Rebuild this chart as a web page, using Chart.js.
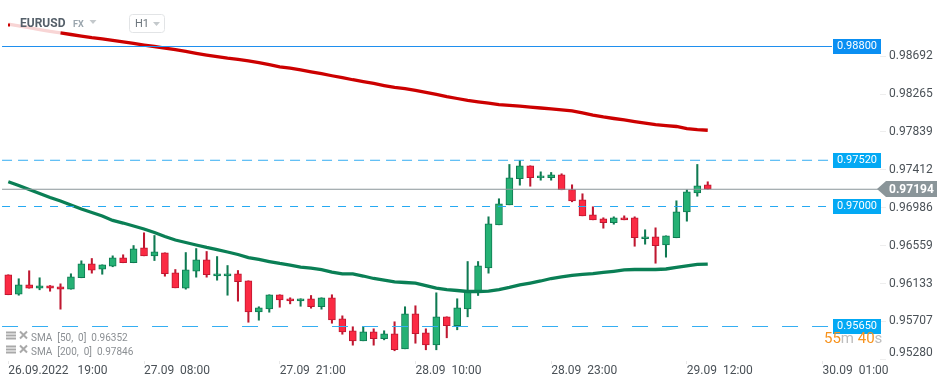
<!DOCTYPE html>
<html>
<head>
<meta charset="utf-8">
<title>EURUSD H1</title>
<script src="https://cdn.jsdelivr.net/npm/chart.js@4/dist/chart.umd.min.js"></script>
<style>
html, body { margin: 0; padding: 0; background: #fff; }
#wrap { width: 949px; height: 384px; }
</style>
</head>
<body>
<div id="wrap"><canvas id="fxChart"></canvas></div>
<script>
const opens = [.96232,.96013,.96119,.96081,.96108,.96097,.9607,.96198,.96355,.96295,.96328,.96423,.96367,.96535,.96445,.96479,.96254,.96081,.96272,.964,.9622,.9622,.96243,.96164,.95815,.95849,.96007,.95962,.95939,.95962,.95872,.95973,.95737,.95602,.95489,.9559,.95512,.95568,.95399,.95793,.95579,.95444,.95759,.95658,.95849,.96032,.9631,.96794,.97019,.97312,.97458,.97323,.97323,.97357,.97191,.97075,.96907,.96862,.96817,.96873,.96873,.96637,.96659,.96569,.96648,.9694,.97154,.97244];
const highs = [.96232,.96187,.96277,.96198,.96111,.9613,.96243,.96389,.96415,.96344,.96445,.96457,.96561,.96704,.96674,.96479,.96291,.96482,.96527,.96494,.96437,.96336,.9628,.96164,.95872,.96007,.96007,.95973,.95962,.95999,.95973,.96007,.9577,.95647,.95647,.95624,.95602,.95703,.95872,.95883,.95624,.96029,.95759,.95962,.96381,.96381,.96884,.97087,.97473,.97518,.97458,.9739,.97383,.97368,.97244,.97143,.96997,.96873,.96884,.96895,.96884,.96738,.9676,.9667,.97064,.97188,.97473,.97278];
const lows = [.96007,.96002,.96081,.96063,.96047,.95845,.9607,.96198,.9625,.96238,.96322,.96367,.96367,.96445,.96392,.96216,.96085,.9607,.96205,.96205,.96171,.96002,.95935,.95698,.95721,.95811,.95867,.95905,.95878,.95856,.95845,.95687,.95563,.9544,.95489,.9544,.955,.95377,.95399,.95462,.95388,.95388,.95523,.95613,.95759,.95999,.9625,.96794,.97019,.9724,.97228,.97296,.97296,.97188,.97053,.96895,.9685,.96756,.96801,.9685,.96553,.96576,.96362,.9643,.96648,.96835,.97116,.97194];
const closes = [.96007,.96119,.96081,.96108,.96081,.9607,.96209,.96355,.96283,.96344,.96423,.96367,.96524,.96445,.9649,.96243,.96085,.96288,.964,.96232,.96243,.96243,.96153,.95815,.9586,.96007,.9595,.95939,.95962,.95872,.95973,.95725,.9559,.95489,.9559,.95512,.95568,.95388,.95793,.95568,.95444,.95759,.95658,.9586,.9604,.96333,.96805,.9703,.97323,.97458,.97323,.97345,.97357,.97188,.97064,.96895,.9685,.96817,.96873,.9685,.96648,.96659,.96558,.9667,.9694,.97165,.97233,.97194];
const sma50 = [.97278,.97236,.97191,.97146,.97101,.97062,.97017,.96972,.96933,.96893,.96843,.96814,.96781,.96747,.96708,.96663,.96623,.96595,.96567,.96539,.96516,.96488,.9646,.96426,.96404,.96381,.96359,.9634,.96319,.96306,.96291,.96263,.96243,.96241,.96218,.9619,.96173,.96153,.96145,.96139,.96111,.96083,.96066,.96055,.96044,.96044,.96049,.96066,.96089,.96117,.96139,.96162,.9619,.96207,.96224,.96237,.96246,.96258,.96271,.96286,.96291,.96291,.96291,.96297,.96314,.96331,.96348,.96352];
const sma200 = [.99053,.99032,.99012,.98991,.98971,.98952,.98935,.98918,.98901,.98887,.9887,.98853,.98834,.98816,.988,.98783,.98766,.98744,.98723,.98704,.98685,.98668,.98654,.98639,.98618,.98595,.9857,.98557,.98537,.98515,.98494,.98471,.98449,.98426,.98406,.98384,.98361,.98339,.98325,.98307,.98285,.98262,.98237,.98215,.98195,.98178,.98162,.98147,.98138,.98129,.98119,.98108,.98098,.98088,.98075,.98054,.98029,.98007,.9799,.97975,.97956,.97938,.97922,.97911,.979,.97877,.97866,.97858];

const yTicks = [.98692,.98265,.97839,.97412,.96986,.96559,.96133,.95707,.9528];
const yTickLabels = ['0.98692','0.98265','0.97839','0.97412','0.96986','0.96559','0.96133','0.95707','0.95280'];
const xTicks = [0,13,26,39,52,65,78];
const xTickLabels = ['26.09.2022   19:00','27.09  08:00','27.09  21:00','28.09  10:00','28.09  23:00','29.09  12:00','30.09  01:00'];
const lastPrice = 0.97194;
const levels = [0.988, 0.9752, 0.97, 0.9565];
const levelLabels = ['0.98800','0.97520','0.97000','0.95650'];
const levelDash = [[], [10,6], [8,8], [16,14]];
const levelColors = ['#1f8fee','#35aef2','#25a9f2','#35aef2'];
const levelBoxColors = ['#0a8ff2','#03a9f4','#03a9f4','#03a9f4'];
const legendLines = ['SMA  [50,  0]  0.96352','SMA  [200,  0]  0.97846'];

const FONT = 'Roboto, sans-serif';
const UP = '#25b174', UP_EDGE = '#0f7a52', DOWN = '#fb2a43', DOWN_EDGE = '#bf1730';
const isUp = opens.map((o, i) => closes[i] >= o);
const xMin = -0.795, xMax = 83.5;

const datasets = [];
levels.forEach((lv, i) => {
    datasets.push({
        type: 'line',
        data: [{ x: -0.6, y: lv }, { x: 78.9, y: lv }],
        borderColor: levelColors[i],
        borderWidth: 1,
        borderDash: levelDash[i],
        pointRadius: 0,
        order: 0,
    });
});
datasets.push({
    type: 'line',
    data: [{ x: -0.6, y: lastPrice }, { x: xMax, y: lastPrice }],
    borderColor: '#8a9599',
    borderWidth: 1,
    pointRadius: 0,
    order: 0,
});
datasets.push({
    type: 'line',
    data: sma200.map((v, i) => ({ x: i, y: v })),
    borderColor: '#cc0000',
    borderWidth: 3.3,
    pointRadius: 0,
    // the header fades the start of this line
    segment: { borderColor: ctx => ctx.p0DataIndex < 5 ? '#f8d5d5' : undefined },
    order: 1,
});
datasets.push({
    type: 'line',
    data: sma50.map((v, i) => ({ x: i, y: v })),
    borderColor: '#0a7f55',
    borderWidth: 3.3,
    pointRadius: 0,
    order: 1,
});
datasets.push({
    type: 'bar',
    data: opens.map((o, i) => ({ x: i, y: [Math.min(o, closes[i]), Math.max(o, closes[i])] })),
    backgroundColor: isUp.map(u => u ? UP : DOWN),
    borderColor: isUp.map(u => u ? UP_EDGE : DOWN_EDGE),
    borderWidth: 1,
    borderSkipped: false,
    barThickness: 7,
    order: 2,
});
datasets.push({
    type: 'bar',
    data: lows.map((l, i) => ({ x: i, y: [l, highs[i]] })),
    backgroundColor: isUp.map(u => u ? UP_EDGE : DOWN_EDGE),
    borderWidth: 0,
    barThickness: 1.4,
    order: 3,
});

function triangle(ctx, x, y, w, h, color) {
    ctx.fillStyle = color;
    ctx.beginPath();
    ctx.moveTo(x, y);
    ctx.lineTo(x + w, y);
    ctx.lineTo(x + w / 2, y + h);
    ctx.closePath();
    ctx.fill();
}

// labels at the axis ends must not push the chart area in
function noMargins(s) {
    s.paddingLeft = 0;
    s.paddingRight = 0;
    s.paddingTop = 0;
    s.paddingBottom = 0;
}

const overlay = {
    id: 'overlay',
    afterDraw(chart) {
        const ctx = chart.ctx;
        const yScale = chart.scales.y;
        ctx.save();
        ctx.textBaseline = 'middle';

        // level boxes
        levels.forEach((lv, i) => {
            const y = Math.floor(yScale.getPixelForValue(lv));
            ctx.fillStyle = levelBoxColors[i];
            ctx.fillRect(833, y - 7, 48, 15);
            ctx.fillStyle = '#fff';
            ctx.font = '11px ' + FONT;
            ctx.textAlign = 'left';
            ctx.fillText(levelLabels[i], 837, y + 0.5);
        });

        // last price tag
        const py = Math.round(yScale.getPixelForValue(lastPrice));
        ctx.fillStyle = '#8a9599';
        ctx.beginPath();
        ctx.moveTo(877, py);
        ctx.lineTo(886, py - 8);
        ctx.lineTo(937, py - 8);
        ctx.lineTo(937, py + 8);
        ctx.lineTo(886, py + 8);
        ctx.closePath();
        ctx.fill();
        ctx.fillStyle = '#fff';
        ctx.font = 'bold 12px ' + FONT;
        ctx.fillText('0.97194', 889, py + 0.5);

        // bottom price is held up above the time axis
        ctx.fillStyle = '#4a5157';
        ctx.font = '12px ' + FONT;
        ctx.fillText(yTickLabels[yTickLabels.length - 1], 889, 353);

        // countdown
        ctx.font = '15px ' + FONT;
        let tx = 824;
        [['55', '#f7931e'], ['m ', '#bdbdbd'], ['40', '#f7931e'], ['s', '#bdbdbd']].forEach(p => {
            ctx.fillStyle = p[1];
            ctx.fillText(p[0], tx, 339.5);
            tx += ctx.measureText(p[0]).width;
        });

        // header
        ctx.fillStyle = '#55606a';
        ctx.font = 'bold 12px ' + FONT;
        ctx.fillText('EURUSD', 20, 23.5);
        ctx.fillStyle = '#9aa5ad';
        ctx.font = 'bold 9px ' + FONT;
        ctx.fillText('FX', 73, 24.5);
        triangle(ctx, 89.5, 20, 7, 4, '#c4c9cc');
        ctx.strokeStyle = '#e2e4e6';
        ctx.lineWidth = 1;
        ctx.beginPath();
        ctx.roundRect(129.5, 14.5, 35, 18, 3);
        ctx.stroke();
        ctx.fillStyle = '#6c757c';
        ctx.font = '11px ' + FONT;
        ctx.fillText('H1', 135, 24);
        triangle(ctx, 153, 22, 7, 4, '#c4c9cc');
        ctx.fillStyle = '#cc0000';
        ctx.fillRect(8, 23.5, 2, 3);

        // indicator legend
        legendLines.forEach((txt, i) => {
            const ly = 337.5 + i * 14;
            ctx.fillStyle = '#a9a9a9';
            ctx.fillRect(6, ly - 6, 10, 2);
            ctx.fillRect(6, ly - 3, 10, 2);
            ctx.fillRect(6, ly, 10, 2);
            ctx.strokeStyle = '#a9a9a9';
            ctx.lineWidth = 2;
            ctx.beginPath();
            ctx.moveTo(20, ly - 6);
            ctx.lineTo(27, ly + 1);
            ctx.moveTo(27, ly - 6);
            ctx.lineTo(20, ly + 1);
            ctx.stroke();
            ctx.fillStyle = '#8b8f93';
            ctx.font = '10px ' + FONT;
            ctx.fillText(txt, 31, ly + 0.5);
        });
        ctx.restore();
    },
};

new Chart(document.getElementById('fxChart'), {
    data: { datasets },
    plugins: [overlay],
    options: {
        responsive: true,
        maintainAspectRatio: false,
        animation: false,
        grouped: false,
        layout: { padding: 0 },
        elements: { line: { tension: 0 } },
        plugins: { legend: { display: false }, tooltip: { enabled: false } },
        scales: {
            x: {
                type: 'linear',
                offset: false,
                min: xMin,
                max: xMax,
                afterFit(s) { s.height = 23; noMargins(s); },
                afterBuildTicks(s) { s.ticks = xTicks.map(v => ({ value: v })); },
                grid: { drawOnChartArea: false, offset: false, color: '#e8e8e8', tickLength: 3 },
                border: { display: false },
                ticks: {
                    autoSkip: false,
                    maxRotation: 0,
                    align: 'start',
                    padding: 0,
                    color: '#4a5157',
                    font: { family: FONT, size: 12 },
                    callback(v, i) { return xTickLabels[i]; },
                },
            },
            y: {
                type: 'linear',
                position: 'right',
                min: 0.95261875,
                max: 0.99323125,
                afterFit(s) { s.width = 69; noMargins(s); },
                afterBuildTicks(s) { s.ticks = yTicks.map(v => ({ value: v })); },
                grid: { drawOnChartArea: false, color: '#eeeeee', tickLength: 6 },
                border: { display: false },
                ticks: {
                    autoSkip: false,
                    padding: 3,
                    crossAlign: 'near',
                    color: '#4a5157',
                    font: { family: FONT, size: 12 },
                    callback(v, i) { return i === yTickLabels.length - 1 ? '' : yTickLabels[i]; },
                },
            },
        },
    },
});
</script>
</body>
</html>
